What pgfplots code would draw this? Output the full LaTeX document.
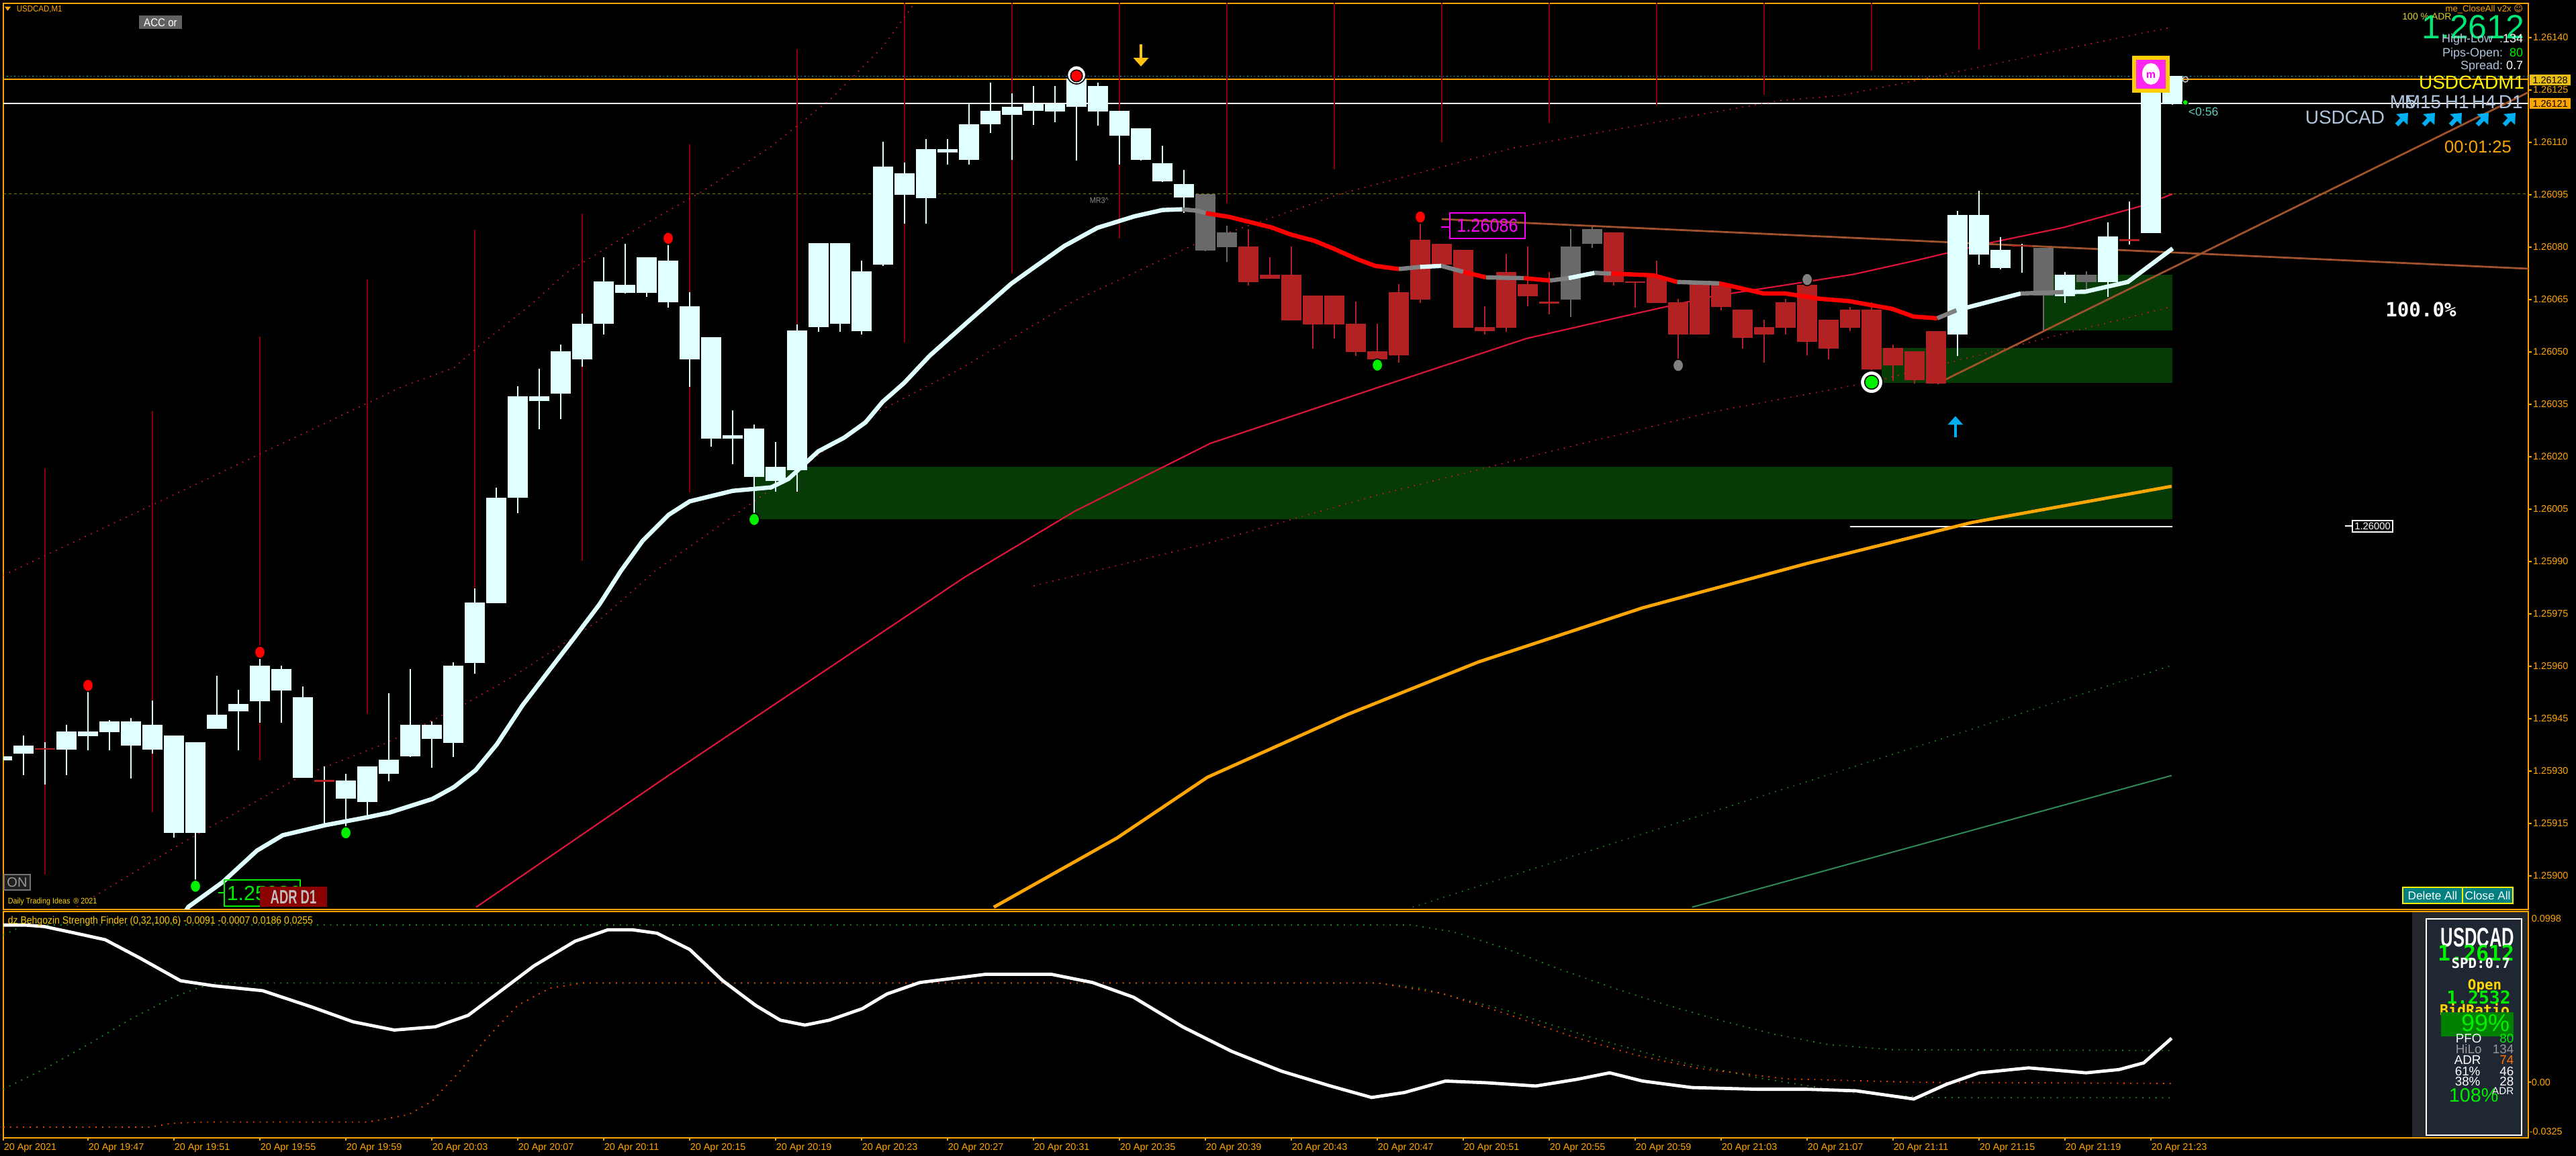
\documentclass[border=0pt]{standalone}
\usepackage{pgfplots}
\pgfplotsset{compat=1.18}
\usepackage{pgfplotstable}
\usetikzlibrary{arrows.meta}
\usepackage{fontspec}
\setmainfont{Liberation Sans}
\newfontfamily\narrow[FakeStretch=0.9]{Liberation Sans}
\newfontfamily\cond[FakeStretch=0.64]{Liberation Sans}
\newfontfamily\dmono{DejaVu Sans Mono}
\newfontfamily\dsans{DejaVu Sans}
\newcommand{\fs}[1]{\fontsize{#1}{#1}\selectfont}

\definecolor{mtorange}{HTML}{FFA500}
\definecolor{cwhite}{HTML}{E0FFFF}
\definecolor{cred}{HTML}{B22222}
\definecolor{cgray}{HTML}{696969}
\definecolor{sepred}{HTML}{8B0000}
\definecolor{crims}{HTML}{DC143C}
\definecolor{brownln}{HTML}{A0522D}
\definecolor{boxgreen}{HTML}{063A06}
\definecolor{olivedash}{HTML}{808000}
\definecolor{skyline}{HTML}{00BFFF}
\definecolor{steel}{HTML}{B0C4DE}
\definecolor{biggreen}{HTML}{00E676}
\definecolor{brightgreen}{HTML}{00F000}
\definecolor{goldtxt}{HTML}{FFD700}
\definecolor{btnteal}{HTML}{008080}
\definecolor{seagr}{HTML}{2E8B57}
\definecolor{dotgreen}{HTML}{1E8C1E}
\definecolor{dotred}{HTML}{FF4500}
\definecolor{magtxt}{HTML}{FF00FF}
\definecolor{arrowyel}{HTML}{FFC20E}
\definecolor{panelgray}{HTML}{24272B}
\definecolor{panelblue}{HTML}{1F2733}

% prices are stored in points above 1.25000 (1121.0 = 1.26121)
\pgfplotstableread{
i lo hi bl bh
-4 932.0 935.0 933.1 934.2
-3 928.9 940.2 935.0 937.3
-1 928.9 943.2 936.2 941.3
0 936.0 953.3 940.0 941.3
1 936.0 944.5 941.2 944.2
2 927.9 945.2 937.2 944.2
3 934.9 950.2 936.2 943.2
4 911.0 940.2 912.2 940.2
5 897.5 938.2 912.2 938.2
6 942.0 957.3 942.1 946.1
7 936.0 953.2 947.1 949.1
8 943.8 963.2 950.0 960.2
9 943.8 960.2 953.1 959.2
10 928.0 954.1 928.1 951.1
12 912.3 929.1 922.1 927.2
13 916.8 931.3 921.1 931.3
14 927.0 952.2 929.1 933.2
15 934.0 959.2 934.1 943.2
16 931.0 944.2 939.1 943.2
17 934.0 961.1 938.0 960.2
18 957.9 982.3 961.0 978.2
19 978.0 1011.2 978.1 1008.2
20 1003.8 1040.1 1008.2 1037.2
21 1027.8 1045.2 1036.0 1037.2
22 1030.8 1052.0 1038.1 1050.2
23 1045.8 1061.0 1047.9 1058.1
24 1055.0 1077.1 1058.0 1070.1
25 1066.7 1081.0 1066.9 1069.2
26 1065.8 1077.1 1066.9 1077.1
27 1062.6 1082.3 1064.1 1076.1
28 1039.9 1067.1 1047.9 1063.1
29 1022.9 1054.2 1025.1 1054.2
30 1017.8 1033.2 1025.1 1026.1
31 1002.3 1029.1 1014.1 1028.1
32 1009.9 1024.2 1013.1 1017.0
33 1009.9 1057.9 1016.1 1056.1
34 1055.8 1081.1 1057.0 1081.1
35 1055.8 1081.1 1058.0 1081.1
36 1055.0 1076.1 1056.0 1073.1
37 1074.6 1110.2 1074.9 1103.1
38 1086.7 1104.1 1095.0 1101.1
39 1086.7 1111.0 1094.0 1108.0
40 1103.7 1111.0 1107.0 1108.0
41 1103.7 1121.0 1105.0 1115.2
42 1112.7 1127.0 1115.1 1119.0
43 1104.9 1123.9 1117.9 1120.1
44 1114.9 1126.2 1118.9 1121.0
45 1115.8 1126.1 1118.8 1121.0
46 1104.8 1130.4 1120.1 1128.2
47 1114.8 1127.0 1118.8 1126.1
48 1103.6 1119.0 1111.9 1118.9
49 1104.8 1114.0 1105.0 1114.0
50 1098.6 1109.0 1098.8 1104.0
51 1089.7 1102.0 1094.1 1098.1
87 1048.8 1090.3 1054.9 1089.1
88 1074.9 1096.1 1077.9 1089.1
89 1073.7 1082.9 1074.0 1079.2
92 1063.9 1072.9 1066.0 1072.1
94 1065.7 1087.1 1070.0 1083.0
96 1083.9 1131.0 1084.0 1128.9
97 1120.8 1128.9 1121.0 1128.9
}\whitec

\pgfplotstableread{
i lo hi bl bh
54 1068.9 1085.1 1070.0 1080.2
55 1070.9 1077.0 1070.9 1072.1
56 1059.0 1080.2 1059.0 1072.1
57 1050.9 1066.1 1057.9 1066.1
58 1053.8 1066.1 1057.9 1066.1
59 1048.8 1064.3 1049.9 1058.0
60 1047.2 1058.0 1047.9 1050.1
61 1046.8 1069.3 1049.0 1067.1
62 1063.9 1088.4 1065.0 1082.1
63 1074.9 1081.0 1074.9 1081.0
64 1056.8 1079.2 1056.9 1079.2
65 1054.9 1063.0 1055.9 1057.0
66 1055.8 1078.1 1056.9 1072.9
67 1063.0 1080.1 1066.0 1069.3
71 1068.9 1084.2 1070.0 1084.2
73 1064.0 1076.1 1064.0 1071.3
74 1046.5 1065.2 1054.9 1064.1
75 1054.9 1069.4 1054.9 1069.4
76 1061.8 1069.3 1062.9 1069.3
77 1050.9 1062.1 1053.9 1062.1
78 1046.8 1059.1 1054.9 1057.0
79 1054.9 1065.2 1056.9 1064.1
80 1049.0 1070.7 1052.9 1069.1
81 1047.9 1059.1 1050.9 1059.1
82 1056.0 1062.8 1056.9 1062.1
83 1041.3 1064.1 1045.0 1062.1
84 1041.7 1052.0 1046.1 1051.1
85 1040.9 1050.1 1041.9 1050.1
86 1040.9 1056.0 1040.9 1056.0
}\redc

\pgfplotstableread{
i lo hi bl bh
52 1078.8 1095.2 1079.0 1095.2
53 1075.8 1086.2 1079.9 1084.2
69 1059.9 1085.1 1065.0 1080.2
70 1079.7 1085.8 1081.0 1085.1
91 1056.2 1079.7 1066.1 1079.7
93 1067.8 1073.1 1070.0 1072.1
}\grayc

% doji bars: open = close
\pgfplotstableread{
i lo hi oc
-2 926.1 938.2 936.3
11 914.8 931.3 927.2
90 1072.7 1081.0 1080.3
95 1080.8 1093.0 1082.0
}\dojiw
\pgfplotstableread{
i lo hi oc
68 1060.8 1072.9 1064.1
72 1062.6 1070.0 1070.0
}\dojir

% dark red vertical lines every 5 bars
\pgfplotstableread{
i lo hi
-2 900.4 1016.7
3 918.2 1033.1
8 933.0 1054.3
13 946.3 1070.8
18 982.3 1084.9
23 990.2 1089.6
28 1009.7 1109.3
33 1009.7 1136.6
38 1052.6 1150
43 1072.5 1150
48 1082.5 1150
53 1092.5 1150
58 1102.2 1150
63 1109.9 1150
68 1115.6 1150
73 1120.6 1150
78 1123.6 1150
83 1130.6 1150
88 1136.5 1150
}\seps

\pgfplotsset{bars only/.style={draw=none, mark=none, mark options={draw=none, fill=none}, forget plot}}

\newcommand{\candles}[2]{%
  \addplot[bars only, error bars/.cd, y dir=plus, y explicit, error mark=none,
    error bar style={line width=0.45pt, draw=#2}]
    table[x=i, y=lo, y error plus expr=\thisrow{hi}-\thisrow{lo}] {#1};
  \addplot[bars only, error bars/.cd, y dir=plus, y explicit, error mark=none,
    error bar style={line width=7.6pt, draw=#2}]
    table[x=i, y=bl, y error plus expr=\thisrow{bh}-\thisrow{bl}] {#1};
}
\newcommand{\dojis}[2]{%
  \addplot[bars only, error bars/.cd, y dir=plus, y explicit, error mark=none,
    error bar style={line width=0.45pt, draw=#2}]
    table[x=i, y=lo, y error plus expr=\thisrow{hi}-\thisrow{lo}] {#1};
  \addplot[bars only, error bars/.cd, x dir=both, x fixed=0.46, error mark=none,
    error bar style={line width=0.6pt, draw=cred}]
    table[x=i, y=oc] {#1};
}

\begin{document}
\begin{tikzpicture}
\fill[black] (0,0) rectangle (959pt,430.25pt);
\useasboundingbox (0,0) rectangle (959pt,430.25pt);

% ---------------- main price panel ----------------
\begin{axis}[
  at={(1.25pt,91.75pt)}, anchor=south west, scale only axis,
  width=940pt, height=337.25pt,
  xmin=-3.94, xmax=113.56, ymin=890.35, ymax=1149.77,
  axis line style={draw=mtorange, line width=0.5pt},
  xtick=\empty,
  ytick={900,915,930,945,960,975,990,1005,1020,1035,1050,1065,1080,1095,1110,1125,1140},
  yticklabels={1.25900,1.25915,1.25930,1.25945,1.25960,1.25975,1.25990,1.26005,1.26020,1.26035,1.26050,1.26065,1.26080,1.26095,1.26110,1.26125,1.26140},
  yticklabel pos=right, ytick pos=right,
  tick align=outside, major tick length=1.2pt,
  tick style={draw=mtorange, line width=0.4pt},
  yticklabel style={font=\fs{3.6}, text=mtorange, anchor=west, inner sep=0pt, xshift=0.4pt},
]
% zones
\addplot[fill=boxgreen, draw=none] coordinates {(31,1002.1) (97,1002.1) (97,1017.0) (31,1017.0)} -- cycle;
\addplot[fill=boxgreen, draw=none] coordinates {(91.04,1056.2) (97,1056.2) (97,1072.1) (91.04,1072.1)} -- cycle;
\addplot[fill=boxgreen, draw=none] coordinates {(83.46,1041.1) (97,1041.1) (97,1051.1) (83.46,1051.1)} -- cycle;
% horizontal levels
\addplot[skyline, line width=0.35pt, densely dotted] coordinates {(-3.94,1128.9) (113.56,1128.9)};
\addplot[mtorange, line width=0.35pt] coordinates {(-3.94,1128.0) (113.56,1128.0)};
\addplot[white, line width=0.35pt] coordinates {(-3.94,1121.1) (113.56,1121.1)};
\addplot[olivedash, line width=0.35pt, dash pattern=on 1pt off 1pt] coordinates {(-3.94,1095.2) (113.56,1095.2)};
\addplot[white, line width=0.4pt] coordinates {(82,1000) (97,1000)};
% separators
\addplot[bars only, error bars/.cd, y dir=plus, y explicit, error mark=none,
  error bar style={line width=0.5pt, draw=sepred}]
  table[x=i, y=lo, y error plus expr=\thisrow{hi}-\thisrow{lo}] {\seps};
% channel lines
\addplot[crims, line width=0.4pt, dotted] coordinates {(-3.94,986) (14.65,1040.1) (17.04,1045.5) (18.24,1051.9) (20.63,1063.6) (22.23,1072.5) (25.81,1086.2) (28.6,1096.0) (31.79,1108.8) (34.58,1122.5) (36.97,1137.2) (38.6,1151)};
\addplot[crims, line width=0.4pt, dotted] coordinates {(-0.51,891.1) (4.67,910.4) (9.85,928.3) (13.84,937.9) (17.43,948.8) (19.82,957.2) (23.8,973.2) (26.4,987.3) (32.59,1014.1) (36.58,1032.3) (40.56,1045.0) (45.9,1064.6) (51.58,1081.0) (58.38,1095.4) (66.27,1108.3) (72.85,1115.6) (78.73,1121.9) (81.57,1123.4) (85.16,1127.8) (91.93,1136.6) (97,1143)};
\addplot[crims, line width=0.4pt, dotted] coordinates {(44,983) (52,995) (60,1009) (69.57,1023.8) (75.59,1032.8) (82.97,1041.3) (97,1063)};
\addplot[crims, line width=0.55pt] coordinates {(18.06,891) (27.15,929.3) (40.76,985.35) (45.9,1004.3) (52.23,1023.8) (59.69,1039.1) (66.93,1053.8) (72.19,1061.2) (75.59,1065.9) (79.18,1069.3) (82.17,1072.2) (85.16,1076.3) (88.35,1081.0) (91.93,1085.6) (95.52,1091.7) (97.01,1095.2)};
\addplot[mtorange, line width=1.2pt] coordinates {(42.15,891.0) (47.88,910.8) (52.09,928.2) (58.58,946.1) (64.70,961.2) (72.34,976.7) (79.99,989.4) (87.63,1001.1) (96.96,1011.5)};
\addplot[dotgreen, line width=0.4pt, dotted] coordinates {(61.64,891.0) (96.96,960.2)};
\addplot[seagr, line width=0.5pt] coordinates {(74.64,891.0) (96.96,928.7)};
\addplot[brownln, line width=0.7pt] coordinates {(63,1088.0) (113.56,1073.8)};
\addplot[brownln, line width=0.7pt] coordinates {(86.05,1040.9) (113.56,1124.3)};
% candles
\candles{\whitec}{cwhite}
\candles{\redc}{cred}
\candles{\grayc}{cgray}
\dojis{\dojiw}{cwhite}
\dojis{\dojir}{cred}
% thick moving average, coloured by slope
\addplot[cwhite, line width=1.6pt] coordinates {(4.5,889.5) (4.67,891.1) (6.27,898.2) (7.86,907.2) (9.06,911.6) (11.05,914.5) (13.04,916.8) (14.04,918.1) (16.03,922.0) (17.03,925.4) (18.03,930.2) (19.02,937.6) (20.22,948.8) (21.41,958.4) (22.61,968.0) (23.8,977.7) (24.8,987.3) (25.81,995.9) (27.01,1003.3) (28.0,1007.2) (30.0,1010.2) (31.79,1011.2) (32.59,1013.6) (33.98,1021.5) (35.18,1025.4) (36.18,1029.8) (36.98,1035.7) (37.98,1041.1) (39.17,1048.9) (40.96,1058.7) (42.96,1069.5) (43.96,1073.9) (45.43,1080.3) (46.97,1085.5) (48.7,1088.8) (50.0,1090.6) (50.92,1090.8)};
\addplot[gray, line width=1.6pt] coordinates {(50.92,1090.8) (51.6,1090.4) (52.02,1089.7)};
\addplot[red, line width=1.6pt] coordinates {(52.02,1089.7) (53.12,1088.6) (54.43,1086.6) (55.09,1085.6) (55.96,1083.6) (57.06,1081.8) (57.94,1079.6) (59.03,1076.6) (59.9,1074.6) (61.0,1073.7)};
\addplot[gray, line width=1.6pt] coordinates {(61.0,1073.7) (61.99,1074.3)};
\addplot[cwhite, line width=1.6pt] coordinates {(61.99,1074.3) (62.98,1074.6)};
\addplot[gray, line width=1.6pt] coordinates {(62.98,1074.6) (64.0,1072.9)};
\addplot[red, line width=1.6pt] coordinates {(64.0,1072.9) (65.06,1071.3)};
\addplot[gray, line width=1.6pt] coordinates {(65.06,1071.3) (66.82,1071.1)};
\addplot[red, line width=1.6pt] coordinates {(66.82,1071.1) (68.03,1070.4)};
\addplot[gray, line width=1.6pt] coordinates {(68.03,1070.4) (68.9,1071.1)};
\addplot[cwhite, line width=1.6pt] coordinates {(68.9,1071.1) (70.11,1072.6)};
\addplot[gray, line width=1.6pt] coordinates {(70.11,1072.6) (70.88,1072.4)};
\addplot[red, line width=1.6pt] coordinates {(70.88,1072.4) (72.85,1071.9) (73.95,1070.0)};
\addplot[gray, line width=1.6pt] coordinates {(73.95,1070.0) (75.92,1069.6)};
\addplot[red, line width=1.6pt] coordinates {(75.92,1069.6) (77.98,1066.7) (78.98,1066.7) (80.57,1065.2) (81.96,1064.5) (83.96,1062.3) (84.95,1060.1) (86.05,1059.6)};
\addplot[gray, line width=1.6pt] coordinates {(86.05,1059.6) (86.95,1061.9)};
\addplot[cwhite, line width=1.6pt] coordinates {(86.95,1061.9) (89.94,1066.7)};
\addplot[gray, line width=1.6pt] coordinates {(89.94,1066.7) (91.93,1067.1)};
\addplot[cwhite, line width=1.6pt] coordinates {(91.93,1067.1) (92.93,1067.2) (94.92,1070.0) (97.01,1079.6)};
% signal dots
\addplot[only marks, mark=*, mark size=2.3pt, mark options={draw=none, fill=red, xscale=0.85}] coordinates {(0,954.5) (8,964.0) (27,1082.5) (62,1088.6)};
\addplot[only marks, mark=*, mark size=3.4pt, mark options={draw=none, fill=white}] coordinates {(46,1129.3)};
\addplot[only marks, mark=*, mark size=2.2pt, mark options={draw=none, fill=red}] coordinates {(46,1129.0)};
\addplot[only marks, mark=*, mark size=2.3pt, mark options={draw=none, fill=brightgreen, xscale=0.85}] coordinates {(5,897.0) (12,912.3) (31,1002.0) (60,1046.2)};
\addplot[only marks, mark=*, mark size=4.2pt, mark options={draw=none, fill=white}] coordinates {(83,1041.3)};
\addplot[only marks, mark=*, mark size=2.6pt, mark options={draw=none, fill=brightgreen}] coordinates {(83,1041.3)};
\addplot[only marks, mark=*, mark size=2.3pt, mark options={draw=none, fill=gray, xscale=0.85}] coordinates {(74,1046.1) (80,1070.7)};
\addplot[only marks, mark=*, mark size=1.1pt, mark options={draw=none, fill=brightgreen}] coordinates {(97.6,1121.4)};
\addplot[only marks, mark=o, mark size=1.0pt, mark options={draw=lightgray, line width=0.4pt}] coordinates {(97.6,1128.0)};
% arrows
\addplot[arrowyel, line width=1.1pt, -{Triangle[length=3.2pt,width=5.5pt]}, quiver={u=0,v=-6.3}] coordinates {(49,1138.0)};
\addplot[cyan, line width=1.1pt, -{Triangle[length=3.2pt,width=5.5pt]}, quiver={u=0,v=6.0}] coordinates {(86.9,1025.6)};
\end{axis}

% ---------------- oscillator panel ----------------
\begin{axis}[
  at={(1.25pt,6.75pt)}, anchor=south west, scale only axis,
  width=940pt, height=84.25pt,
  xmin=-3.94, xmax=113.56, ymin=-0.0325, ymax=0.0998,
  axis line style={draw=mtorange, line width=0.5pt},
  xtick={-3.94,0,4,8,12,16,20,24,28,32,36,40,44,48,52,56,60,64,68,72,76,80,84,88,92,96},
  xticklabels={20 Apr 2021,20 Apr 19:47,20 Apr 19:51,20 Apr 19:55,20 Apr 19:59,20 Apr 20:03,20 Apr 20:07,20 Apr 20:11,20 Apr 20:15,20 Apr 20:19,20 Apr 20:23,20 Apr 20:27,20 Apr 20:31,20 Apr 20:35,20 Apr 20:39,20 Apr 20:43,20 Apr 20:47,20 Apr 20:51,20 Apr 20:55,20 Apr 20:59,20 Apr 21:03,20 Apr 21:07,20 Apr 21:11,20 Apr 21:15,20 Apr 21:19,20 Apr 21:23},
  xtick pos=bottom, ytick pos=right,
  ytick={0}, yticklabels={},
  tick align=outside, major tick length=1.0pt,
  tick style={draw=mtorange, line width=0.4pt},
  xticklabel style={font=\fs{3.6}, text=mtorange, anchor=north west, inner sep=0pt, yshift=-1.0pt},
]
\addplot[dotgreen, line width=0.45pt, dotted] coordinates {(-3.94,0.086) (-2.95,0.0919) (61.6,0.0919) (63.5,0.088) (66,0.078) (68.5,0.066) (71,0.055) (73.5,0.045) (76,0.036) (78.5,0.028) (81,0.022) (84,0.019) (97,0.0186)};
\addplot[dotgreen, line width=0.45pt, dotted] coordinates {(-3.94,-0.004) (-2,0.008) (0,0.022) (2,0.037) (4,0.050) (5.8,0.058) (60,0.058) (62,0.055) (66,0.042) (70,0.026) (74,0.012) (78,0.002) (82,-0.006) (86,-0.009) (97,-0.0091)};
\addplot[dotred, line width=0.45pt, dotted] coordinates {(-3.94,-0.0262) (2.9,-0.0262) (3.9,-0.0240) (5.5,-0.0233) (13.0,-0.0233) (14.9,-0.0190) (16.0,-0.0112) (17.2,0.005) (18.5,0.025) (20,0.045) (21.5,0.055) (23,0.058) (60,0.058) (63,0.052) (66,0.040) (69,0.027) (72,0.016) (75,0.008) (79,0.002) (85,0.0) (97,-0.0007)};
\addplot[white, line width=1.2pt] coordinates {(-3.94,0.0919) (-2.95,0.0919) (-2.03,0.0910) (-0.58,0.0871) (0.80,0.0833) (2.40,0.0727) (4.31,0.0593) (5.84,0.0564) (8.13,0.0535) (10.43,0.0439) (12.34,0.0353) (14.25,0.0305) (16.16,0.0324) (17.69,0.0391) (19.22,0.0535) (20.75,0.0680) (22.66,0.0824) (24.19,0.0891) (25.33,0.0891) (26.48,0.0871) (28.0,0.0776) (29.54,0.0593) (31.07,0.0449) (32.21,0.0363) (33.36,0.0334) (34.5,0.0363) (36.03,0.0430) (37.18,0.0516) (38.71,0.0583) (41.77,0.0631) (44.82,0.0631) (46.74,0.0583) (48.65,0.0497) (50.94,0.0324) (53.23,0.0180) (55.53,0.0065) (57.82,-0.0022) (59.73,-0.0089) (61.26,-0.0060) (63.17,0.0007) (65.08,-0.0003) (67.37,-0.0022) (69.29,0.0017) (70.81,0.0055) (72.34,0.0007) (74.64,-0.0031) (77.69,-0.0041) (79.99,-0.0041) (82.28,-0.0050) (84.96,-0.0098) (86.48,-0.0012) (88.01,0.0055) (90.31,0.0084) (92.98,0.0055) (94.51,0.0074) (95.66,0.0113) (96.96,0.0257)};
\end{axis}

% ---------------- overlays, in screen pixels ----------------
\begin{scope}[x=0.25pt, y=-0.25pt, shift={(0pt,430.25pt)}]
% top left
\fill[mtorange] (7,10) -- (16,10) -- (11.5,16) -- cycle;
\node[anchor=west, inner sep=0pt, text=mtorange, font=\narrow\fs{3.2}] at (24,14) {USDCAD,M1};
\fill[black!62!white] (207,23) rectangle (271,43);
\node[inner sep=0pt, text=white, font=\narrow\fs{4.2}] at (239,33.5) {ACC or};
% oscillator title and bottom-left widgets
\node[anchor=west, inner sep=0pt, text=goldtxt!85!orange, font=\narrow\fs{3.9}] at (11,1371) {dz Behgozin Strength Finder (0,32,100,6) -0.0091 -0.0007 0.0186 0.0255};
\draw[black!55!white, fill=black!88!white, line width=0.4pt] (6,1302) rectangle (45,1325);
\node[inner sep=0pt, text=black!40!white, font=\fs{5}] at (25.5,1313.5) {ON};
\node[anchor=west, inner sep=0pt, text=goldtxt, font=\narrow\fs{3.0}] at (11,1342) {Daily Trading Ideas \,\textregistered\ 2021};
\draw[brightgreen, line width=0.35pt] (325,1329) -- (334,1329);
\draw[brightgreen, line width=0.4pt] (334,1310) rectangle (447,1349);
\node[anchor=west, inner sep=0pt, text=brightgreen, font=\fs{7.6}] at (337,1330) {1.25986};
\fill[sepred] (387,1320) rectangle (487,1350);
\node[inner sep=0pt, text=black!25!white, font=\cond\bfseries\fs{7.2}] at (437,1335.5) {ADR D1};
% signal labels
\node[anchor=west, inner sep=0pt, text=black!45!white, font=\narrow\fs{3.0}] at (1622,298) {MR3\textasciicircum};
\draw[magtxt, line width=0.35pt] (2146,338) -- (2159,338);
\draw[magtxt, line width=0.35pt] (2159,317) rectangle (2271,355);
\node[inner sep=0pt, text=magtxt, font=\narrow\fs{7}] at (2215,336) {1.26086};
\fill[goldtxt!90!orange] (3175,83) rectangle (3231,138);
\fill[magtxt!80!pink] (3181,89) rectangle (3225,132);
\fill[white] (3203,110) ellipse (13 and 16);
\node[inner sep=0pt, text=magtxt, font=\bfseries\fs{4}] at (3203,112) {m};
\node[anchor=west, inner sep=0pt, text=cyan!50!green!60!white, font=\fs{4.4}] at (3258,166) {<0:56};
% 1.26000 label
\draw[white, line width=0.35pt] (3492,783) -- (3503,783);
\draw[white, line width=0.35pt] (3503,775) rectangle (3563,792);
\node[inner sep=0pt, text=white, font=\fs{3.7}] at (3533,783.5) {1.26000};
% top right info
\node[anchor=east, inner sep=0pt, text=mtorange, font=\fs{3.3}] at (3758,14) {me\_CloseAll v2x {\dsans ☺}};
\node[inner sep=0pt, text=yellow!85!black, font=\fs{3.5}] at (3614,25) {100 \% ADR};
\node[anchor=east, inner sep=0pt, text=biggreen, font=\fs{12.5}] at (3760,40) {1.2612};
\node[anchor=east, inner sep=0pt, font=\fs{4.5}] at (3758,59) {\textcolor{steel}{High-Low\ \ :}\textcolor{white}{134}};
\node[anchor=east, inner sep=0pt, font=\fs{4.5}] at (3758,80) {\textcolor{steel}{Pips-Open:\ \ }\textcolor{brightgreen}{80}};
\node[anchor=east, inner sep=0pt, font=\fs{4.5}] at (3758,99) {\textcolor{steel}{Spread:\ }\textcolor{white}{0.7}};
\node[anchor=east, inner sep=0pt, text=yellow, font=\fs{7}] at (3760,123) {USDCADM1};
\foreach \xx/\tt in {3558/M5,3580/M15,3640/H1,3680/H4,3720/D1}
  \node[anchor=west, inner sep=0pt, text=steel, font=\fs{7}] at (\xx,152) {\tt};
\node[anchor=west, inner sep=0pt, text=steel, font=\fs{7}] at (3432,175) {USDCAD};
\foreach \xx in {3578,3618,3658,3698,3738}
  \draw[cyan, line width=1.6pt, -{Triangle[length=3.4pt,width=5.6pt]}] (\xx-9,186) -- (\xx+8,168);
\node[inner sep=0pt, text=mtorange, font=\fs{6.4}] at (3690,219) {00:01:25};
\node[inner sep=0pt, text=white, font=\dmono\bfseries\fs{7.3}] at (3605,461) {100.0\%};
% price tags on the scale
\fill[goldtxt!70!brown] (3767,111) rectangle (3828,127);
\node[inner sep=0pt, text=black, font=\fs{3.6}] at (3797.5,119.5) {1.26128};
\fill[mtorange] (3767,146) rectangle (3828,162);
\node[inner sep=0pt, text=black, font=\fs{3.6}] at (3797.5,154.5) {1.26121};
% buttons
\draw[yellow, fill=btnteal, line width=0.3pt] (3578,1321) rectangle (3667,1345);
\draw[yellow, fill=btnteal, line width=0.3pt] (3667,1321) rectangle (3742,1345);
\node[inner sep=0pt, text=white, font=\fs{4.3}] at (3622.5,1333.5) {Delete All};
\node[inner sep=0pt, text=white, font=\fs{4.3}] at (3704.5,1333.5) {Close All};
% oscillator scale
\node[anchor=west, inner sep=0pt, text=mtorange, font=\fs{3.6}] at (3769,1368) {0.0998};
\node[anchor=west, inner sep=0pt, text=mtorange, font=\fs{3.6}] at (3769,1612) {0.00};
\node[anchor=west, inner sep=0pt, text=mtorange, font=\fs{3.6}] at (3766,1685) {-0.0325};
% dashboard
\fill[panelgray] (3592,1358) rectangle (3764,1693);
\draw[white, fill=panelblue, line width=0.4pt] (3613,1368) rectangle (3755,1690);
\node[anchor=east, inner sep=0pt, text=white, font=\cond\bfseries\fs{10}] at (3745,1396) {USDCAD};
\node[anchor=east, inner sep=0pt, text=brightgreen, font=\dmono\bfseries\fs{7.9}] at (3745,1419) {1.2612};
\node[anchor=east, inner sep=0pt, text=white, font=\dmono\bfseries\fs{5.2}] at (3739,1434) {SPD:0.7};
\node[inner sep=0pt, text=goldtxt, font=\dmono\bfseries\fs{5.2}] at (3700,1468) {Open};
\node[inner sep=0pt, text=brightgreen, font=\dmono\bfseries\fs{6.6}] at (3691,1485) {1.2532};
\node[inner sep=0pt, text=goldtxt, font=\dmono\bfseries\fs{5.4}] at (3685,1503) {BidRatio};
\fill[green!50!black] (3635,1507) rectangle (3743,1543);
\node[anchor=east, inner sep=0pt, text=brightgreen, font=\fs{9}] at (3738,1523) {99\%};
\node[anchor=west, inner sep=0pt, text=white, font=\fs{4.7}] at (3656,1546) {PFO};
\node[anchor=east, inner sep=0pt, text=brightgreen, font=\fs{4.7}] at (3744,1546) {80};
\node[anchor=west, inner sep=0pt, text=black!40!white, font=\fs{4.7}] at (3656,1562) {HiLo};
\node[anchor=east, inner sep=0pt, text=black!40!white, font=\fs{4.7}] at (3744,1562) {134};
\node[anchor=west, inner sep=0pt, text=white, font=\fs{4.7}] at (3654,1578) {ADR};
\node[anchor=east, inner sep=0pt, text=orange!90!red, font=\fs{4.7}] at (3744,1578) {74};
\node[anchor=west, inner sep=0pt, text=white, font=\fs{4.7}] at (3655,1595) {61\%};
\node[anchor=east, inner sep=0pt, text=white, font=\fs{4.7}] at (3744,1595) {46};
\node[anchor=west, inner sep=0pt, text=white, font=\fs{4.7}] at (3655,1610) {38\%};
\node[anchor=east, inner sep=0pt, text=white, font=\fs{4.7}] at (3744,1610) {28};
\node[anchor=east, inner sep=0pt, text=white, font=\fs{3.8}] at (3744,1624) {ADR};
\node[anchor=west, inner sep=0pt, text=brightgreen, font=\fs{7.2}] at (3646,1631) {108\%};
\end{scope}
\end{tikzpicture}
\end{document}
